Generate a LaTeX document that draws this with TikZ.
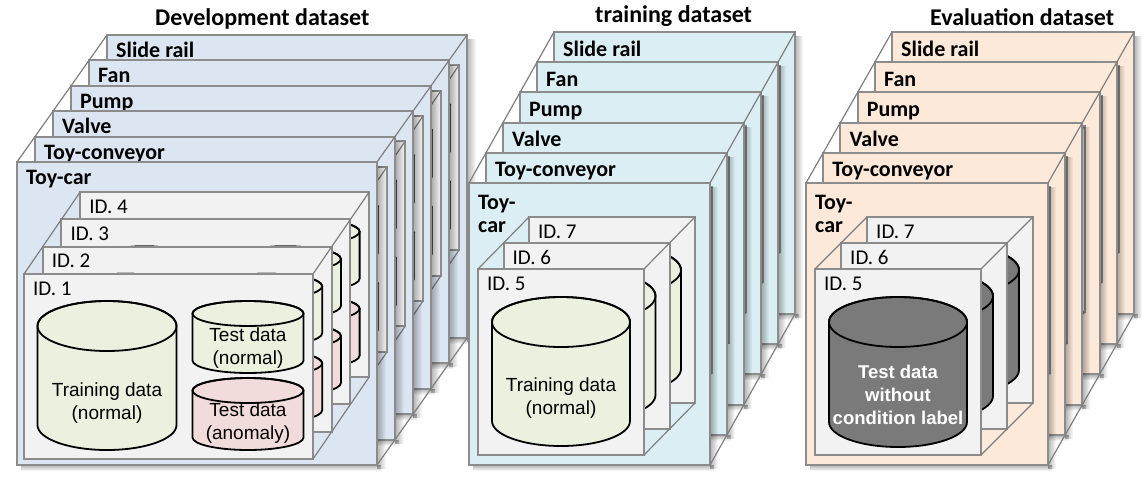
\documentclass[tikz,border=0pt]{standalone}
\usepackage{fontspec}
\setmainfont{Carlito}
\newfontfamily\arialfont{Liberation Sans}
\usetikzlibrary{calc,fadings}
\definecolor{devfill}{HTML}{DCE6F2}
\definecolor{trainfill}{HTML}{DAEEF3}
\definecolor{evalfill}{HTML}{FDE9D9}
\definecolor{idfill}{HTML}{F2F2F2}
\definecolor{normfill}{HTML}{EBF1DE}
\definecolor{anomfill}{HTML}{F2DCDB}
\definecolor{darkfill}{HTML}{7A7A7A}
\definecolor{edgegray}{HTML}{8C8C8C}
\definecolor{diaggray}{HTML}{7F7F7F}

% database drum: centre x, top, bottom, x radius, y radius, fill
\newcommand\dbcyl[6]{%
  \filldraw[dbline, fill=#6] (#1-#4,#2+#5) -- (#1-#4,#3-#5)
    arc[start angle=180, end angle=0, x radius=#4, y radius=#5]
    -- (#1+#4,#2+#5)
    arc[start angle=0, end angle=-180, x radius=#4, y radius=#5] -- cycle;
  \draw[dbline] (#1,#2+#5) ellipse[x radius=#4, y radius=#5];
}

\begin{document}
\begin{tikzpicture}[x=1pt, y=-1pt,
  card/.style={rectangle, draw=edgegray, line width=2pt, anchor=north west,
               outer sep=0pt, inner sep=0pt},
  idcard/.style={card, fill=idfill, minimum width=#1, minimum height=186},
  cardshadow/.style={fill=black, opacity=.3, path fading=east},
  diag/.style={draw=diaggray, line width=1.2pt},
  mlabel/.style={anchor=base west, inner sep=0pt,
                 font=\bfseries\fontsize{22}{23}\selectfont},
  idlabel/.style={anchor=base west, inner sep=0pt,
                  font=\fontsize{21}{23}\selectfont},
  title/.style={anchor=base west, inner sep=0pt,
                font=\bfseries\fontsize{24}{26}\selectfont},
  dbline/.style={draw=black, line width=1.8pt},
  dbtext/.style={align=center, inner sep=0pt,
                 font=\arialfont\fontsize{19}{23}\selectfont}
]
  \fill[white] (0,0) rectangle (1144,483);
  \useasboundingbox (0,0) rectangle (1144,483);

  \node[title] (devtitle) at (155,25) {Development dataset};
  \node[title] (traintitle) at (595,22) {training dataset};
  \node[title] (evaltitle) at (930,25) {Evaluation dataset};

  % development set
  \foreach \mname [count=\i] in {Slide rail,Fan,Pump,Valve,Toy-conveyor,Toy-car}{
    \pgfmathtruncatemacro\k{6-\i}
    \pgfmathtruncatemacro\kb{7-\i}
    \begin{scope}[shift={(17+18*\k,162-25.4*\k)}]
      \fill[cardshadow] (360,4) rectangle (369,307);
      \fill[cardshadow, path fading=south] (4,303) rectangle (364,309);
      \node[card, fill=devfill, minimum width=360, minimum height=303] (dev\k) at (0,0) {};
      \ifnum\k<5
        \draw[diag] (dev\k.north west) -- (dev\kb.north west)
                    (dev\k.north east) -- (dev\kb.north east)
                    (dev\k.south east) -- (dev\kb.south east);
      \fi
      \node[mlabel] (dev\k-name) at (9,22.5) {\mname};
      \foreach \j in {3,2,1,0}{
        \pgfmathtruncatemacro\jb{\j+1}
        \begin{scope}[shift={(7+18.7*\j,112-27.3*\j)}]
          \node[idcard=289, minimum height=185] (dev\k-\j) at (0,0) {};
          \ifnum\j<3
            \draw[diag] (dev\k-\j.north west) -- (dev\k-\jb.north west)
                        (dev\k-\j.north east) -- (dev\k-\jb.north east)
                        (dev\k-\j.south east) -- (dev\k-\jb.south east);
          \fi
          \dbcyl{83}{27}{176}{69.5}{25}{normfill}
          \dbcyl{224}{27}{99}{55.5}{12.5}{normfill}
          \dbcyl{224}{104}{176}{55.5}{12.5}{anomfill}
          \ifnum\k=0
            \node[idlabel] (dev\k-\j-name) at (9,21) {ID. \jb};
            \ifnum\j=0
              \node[dbtext] (dev\k-\j-tr) at (83,129) {Training data\\(normal)};
              \node[dbtext] (dev\k-\j-tn) at (224,74) {Test data\\(normal)};
              \node[dbtext] (dev\k-\j-ta) at (224,149) {Test data\\(anomaly)};
            \fi
          \fi
        \end{scope}
      }
    \end{scope}
  }

  % additional training set
  \foreach \mname/\ly [count=\i] in {Slide rail/24,Fan/24,Pump/24,Valve/24,
      Toy-conveyor/24,{\begin{tabular}[t]{@{}l@{}}Toy-\\car\end{tabular}}/26.5}{
    \pgfmathtruncatemacro\k{6-\i}
    \pgfmathtruncatemacro\kb{7-\i}
    \begin{scope}[shift={(469+17*\k,183-30.2*\k)}]
      \fill[cardshadow] (241,4) rectangle (249,286);
      \fill[cardshadow, path fading=south] (4,282) rectangle (245,288);
      \node[card, fill=trainfill, minimum width=241, minimum height=282] (train\k) at (0,0) {};
      \ifnum\k<5
        \draw[diag] (train\k.north west) -- (train\kb.north west)
                    (train\k.north east) -- (train\kb.north east)
                    (train\k.south east) -- (train\kb.south east);
      \fi
      \node[mlabel] (train\k-name) at (9,\ly) {\mname};
      \foreach \j in {2,1,0}{
        \pgfmathtruncatemacro\jb{\j+1}
        \pgfmathtruncatemacro\idno{\j+5}
        \begin{scope}[shift={(9+25.5*\j,86-26*\j)}]
          \node[idcard=166] (train\k-\j) at (0,0) {};
          \ifnum\j<2
            \draw[diag] (train\k-\j.north west) -- (train\k-\jb.north west)
                        (train\k-\j.north east) -- (train\k-\jb.north east)
                        (train\k-\j.south east) -- (train\k-\jb.south east);
          \fi
          \dbcyl{83}{28}{177}{69}{25}{normfill}
          \ifnum\k=0
            \node[idlabel] (train\k-\j-name) at (9,21) {ID. \idno};
            \ifnum\j=0
              \node[dbtext] (train\k-\j-tr) at (83,129) {Training data\\(normal)};
            \fi
          \fi
        \end{scope}
      }
    \end{scope}
  }

  % evaluation set
  \foreach \mname/\ly [count=\i] in {Slide rail/24,Fan/24,Pump/24,Valve/24,
      Toy-conveyor/24,{\begin{tabular}[t]{@{}l@{}}Toy-\\car\end{tabular}}/26.5}{
    \pgfmathtruncatemacro\k{6-\i}
    \pgfmathtruncatemacro\kb{7-\i}
    \begin{scope}[shift={(806+17.2*\k,183-30.2*\k)}]
      \fill[cardshadow] (242,4) rectangle (250,286);
      \fill[cardshadow, path fading=south] (4,282) rectangle (246,288);
      \node[card, fill=evalfill, minimum width=242, minimum height=282] (eval\k) at (0,0) {};
      \ifnum\k<5
        \draw[diag] (eval\k.north west) -- (eval\kb.north west)
                    (eval\k.north east) -- (eval\kb.north east)
                    (eval\k.south east) -- (eval\kb.south east);
      \fi
      \node[mlabel] (eval\k-name) at (9,\ly) {\mname};
      \foreach \j in {2,1,0}{
        \pgfmathtruncatemacro\jb{\j+1}
        \pgfmathtruncatemacro\idno{\j+5}
        \begin{scope}[shift={(9+26*\j,86-26*\j)}]
          \node[idcard=166] (eval\k-\j) at (0,0) {};
          \ifnum\j<2
            \draw[diag] (eval\k-\j.north west) -- (eval\k-\jb.north west)
                        (eval\k-\j.north east) -- (eval\k-\jb.north east)
                        (eval\k-\j.south east) -- (eval\k-\jb.south east);
          \fi
          \dbcyl{83}{28}{178}{69}{25}{darkfill}
          \ifnum\k=0
            \node[idlabel] (eval\k-\j-name) at (9,21) {ID. \idno};
            \ifnum\j=0
              \node[dbtext, text=white, font=\arialfont\bfseries\fontsize{18.5}{23}\selectfont]
                (eval\k-\j-tx) at (83,126) {Test data\\without\\condition label};
            \fi
          \fi
        \end{scope}
      }
    \end{scope}
  }
\end{tikzpicture}
\end{document}
